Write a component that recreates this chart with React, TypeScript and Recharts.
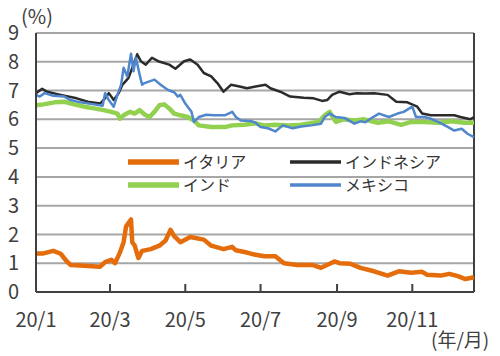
import { LineChart, Line, XAxis, YAxis, CartesianGrid, ReferenceLine } from "recharts";

// day of year 2020 -> yield (%)
const italy: [number, number][] = [
  [0, 1.34], [6, 1.34], [14, 1.43], [20, 1.33], [25, 1.06], [28, 0.94], [39, 0.91], [52, 0.88],
  [56, 1.04], [61, 1.12], [64, 1.0], [68, 1.37], [71, 1.73], [73, 2.28], [77, 2.52], [78, 1.73],
  [80, 1.61], [83, 1.18], [86, 1.43], [93, 1.49], [100, 1.61], [105, 1.79], [109, 2.16], [112, 1.94],
  [117, 1.73], [125, 1.91], [136, 1.82], [142, 1.61], [152, 1.49], [159, 1.57], [162, 1.45], [171, 1.37],
  [177, 1.3], [185, 1.24], [194, 1.24], [201, 1.0], [212, 0.94], [224, 0.94], [231, 0.84], [242, 1.06],
  [246, 1.0], [255, 0.98], [263, 0.84], [274, 0.72], [285, 0.57], [294, 0.72], [304, 0.67], [313, 0.7],
  [317, 0.6], [328, 0.57], [335, 0.63], [342, 0.55], [348, 0.45], [355, 0.51],
];

const indonesia: [number, number][] = [
  [0, 6.91], [5, 7.06], [9, 6.96], [20, 6.85], [33, 6.73], [42, 6.61], [52, 6.55], [56, 6.73],
  [59, 6.91], [63, 6.67], [67, 6.91], [70, 7.2], [75, 7.44], [79, 7.9], [82, 8.26], [85, 8.02],
  [89, 7.9], [94, 8.14], [99, 8.02], [108, 7.9], [113, 7.76], [120, 8.02], [125, 8.08], [131, 7.9],
  [136, 7.61], [142, 7.49], [147, 7.26], [152, 6.96], [158, 7.2], [165, 7.14], [171, 7.08], [178, 7.14],
  [186, 7.2], [190, 7.08], [198, 6.96], [206, 6.79], [217, 6.75], [225, 6.73], [232, 6.64], [236, 6.67],
  [240, 6.85], [246, 6.96], [254, 6.87], [260, 6.91], [267, 6.9], [274, 6.91], [285, 6.85], [292, 6.61],
  [301, 6.59], [309, 6.44], [313, 6.2], [320, 6.14], [331, 6.14], [339, 6.14], [344, 6.08], [352, 6.0],
  [355, 6.08],
];

const india: [number, number][] = [
  [0, 6.49], [6, 6.52], [15, 6.59], [23, 6.61], [31, 6.52], [39, 6.44], [47, 6.38], [55, 6.32],
  [61, 6.26], [66, 6.2], [68, 6.02], [71, 6.14], [76, 6.26], [80, 6.2], [84, 6.32], [88, 6.17],
  [92, 6.08], [96, 6.26], [100, 6.49], [104, 6.52], [108, 6.38], [112, 6.2], [117, 6.14], [123, 6.08],
  [128, 5.96], [132, 5.79], [142, 5.73], [153, 5.73], [159, 5.79], [169, 5.81], [178, 5.86], [185, 5.79],
  [194, 5.81], [205, 5.79], [215, 5.81], [229, 5.91], [234, 6.14], [238, 6.26], [243, 5.91], [249, 6.0],
  [258, 5.96], [266, 6.0], [277, 5.88], [286, 5.93], [296, 5.81], [304, 5.91], [315, 5.91], [326, 5.88],
  [337, 5.93], [347, 5.88], [355, 5.88],
];

const mexico: [number, number][] = [
  [0, 6.85], [3, 6.79], [7, 6.91], [14, 6.82], [23, 6.79], [28, 6.67], [36, 6.59], [47, 6.52],
  [54, 6.47], [56, 6.91], [59, 6.67], [63, 6.44], [66, 6.85], [69, 7.2], [71, 7.79], [74, 7.49],
  [77, 8.28], [79, 7.67], [81, 8.14], [84, 7.55], [86, 7.2], [88, 7.26], [92, 7.32], [96, 7.38],
  [101, 7.2], [107, 7.02], [112, 6.94], [115, 6.79], [117, 6.85], [121, 6.55], [126, 6.26], [128, 5.91],
  [132, 6.08], [138, 6.16], [144, 6.14], [153, 6.14], [159, 6.26], [162, 6.08], [166, 5.96], [175, 5.93],
  [178, 5.88], [182, 5.73], [188, 5.69], [194, 5.58], [200, 5.79], [208, 5.69], [215, 5.75], [223, 5.79],
  [231, 5.85], [234, 6.08], [238, 6.2], [243, 6.08], [250, 6.05], [258, 5.85], [263, 5.93], [267, 5.9],
  [271, 6.02], [278, 6.2], [286, 6.08], [293, 6.2], [298, 6.26], [305, 6.44], [308, 6.08], [315, 6.08],
  [320, 6.02], [326, 5.91], [334, 5.73], [339, 5.61], [345, 5.67], [350, 5.49], [355, 5.38],
];

const tickDays = [0, 60, 121, 182, 244, 305];
const tickLabels = ["20/1", "20/3", "20/5", "20/7", "20/9", "20/11"];
const yTicks = [0, 1, 2, 3, 4, 5, 6, 7, 8, 9];

const series = [
  { name: "イタリア", data: italy, color: "#e46c0a", width: 4.5 },
  { name: "インドネシア", data: indonesia, color: "#2b2b2b", width: 2.5 },
  { name: "インド", data: india, color: "#92d050", width: 4.5 },
  { name: "メキシコ", data: mexico, color: "#4f86cc", width: 2.5 },
];

const toRows = (pts: [number, number][]) => pts.map(([day, v]) => ({ day, v }));

const MonthTick = ({ x, y, payload, index }: any) => (
  <g>
    {index > 0 && <line x1={x} x2={x} y1={y - 8} y2={y} stroke="#404040" strokeWidth={2} />}
    <text x={x} y={y + 35} textAnchor="middle" fontSize={20} fill="#404040">
      {tickLabels[tickDays.indexOf(payload.value)]}
    </text>
  </g>
);

export default function App() {
  const legendPos = [
    { x: 128, y: 162 },
    { x: 290, y: 162 },
    { x: 128, y: 185 },
    { x: 290, y: 185 },
  ];

  return (
    <div
      style={{
        position: "absolute",
        left: 0,
        top: 0,
        width: 500,
        height: 356,
        background: "#fff",
        fontFamily: "'Noto Sans CJK JP', sans-serif",
      }}
    >
      <LineChart width={500} height={356} margin={{ top: 33, right: 26, left: 6, bottom: 34 }}>
        <CartesianGrid horizontal vertical={false} stroke="#a6a6a6" strokeWidth={2} />
        <XAxis
          dataKey="day"
          type="number"
          domain={[0, 355]}
          ticks={tickDays}
          tick={<MonthTick />}
          tickLine={false}
          tickSize={0}
          tickMargin={0}
          height={30}
          axisLine={{ stroke: "#404040", strokeWidth: 2 }}
          interval={0}
        />
        <YAxis
          domain={[0, 9]}
          ticks={yTicks}
          tickLine={false}
          tickSize={0}
          tickMargin={17}
          width={30}
          axisLine={{ stroke: "#404040", strokeWidth: 2 }}
          tick={{ fontSize: 20, fill: "#404040" }}
          interval={0}
        />
        <ReferenceLine x={355} stroke="#404040" strokeWidth={2} />
        {series.map((s) => (
          <Line
            key={s.name}
            data={toRows(s.data)}
            dataKey="v"
            name={s.name}
            stroke={s.color}
            strokeWidth={s.width}
            dot={false}
            isAnimationActive={false}
            strokeLinejoin="round"
          />
        ))}
      </LineChart>

      <svg
        width={500}
        height={356}
        style={{ position: "absolute", left: 0, top: 0, pointerEvents: "none" }}
      >
        {series.map((s, i) => (
          <g key={s.name}>
            <line
              x1={legendPos[i].x}
              x2={legendPos[i].x + 51}
              y1={legendPos[i].y}
              y2={legendPos[i].y}
              stroke={s.color}
              strokeWidth={s.width + 1}
            />
            <text x={legendPos[i].x + 55} y={legendPos[i].y + 6} fontSize={16} fill="#333">
              {s.name}
            </text>
          </g>
        ))}
        <text x={21} y={24} fontSize={20} fill="#404040">(%)</text>
        <text x={431} y={347} fontSize={19} fill="#404040">(年/月)</text>
      </svg>
    </div>
  );
}
